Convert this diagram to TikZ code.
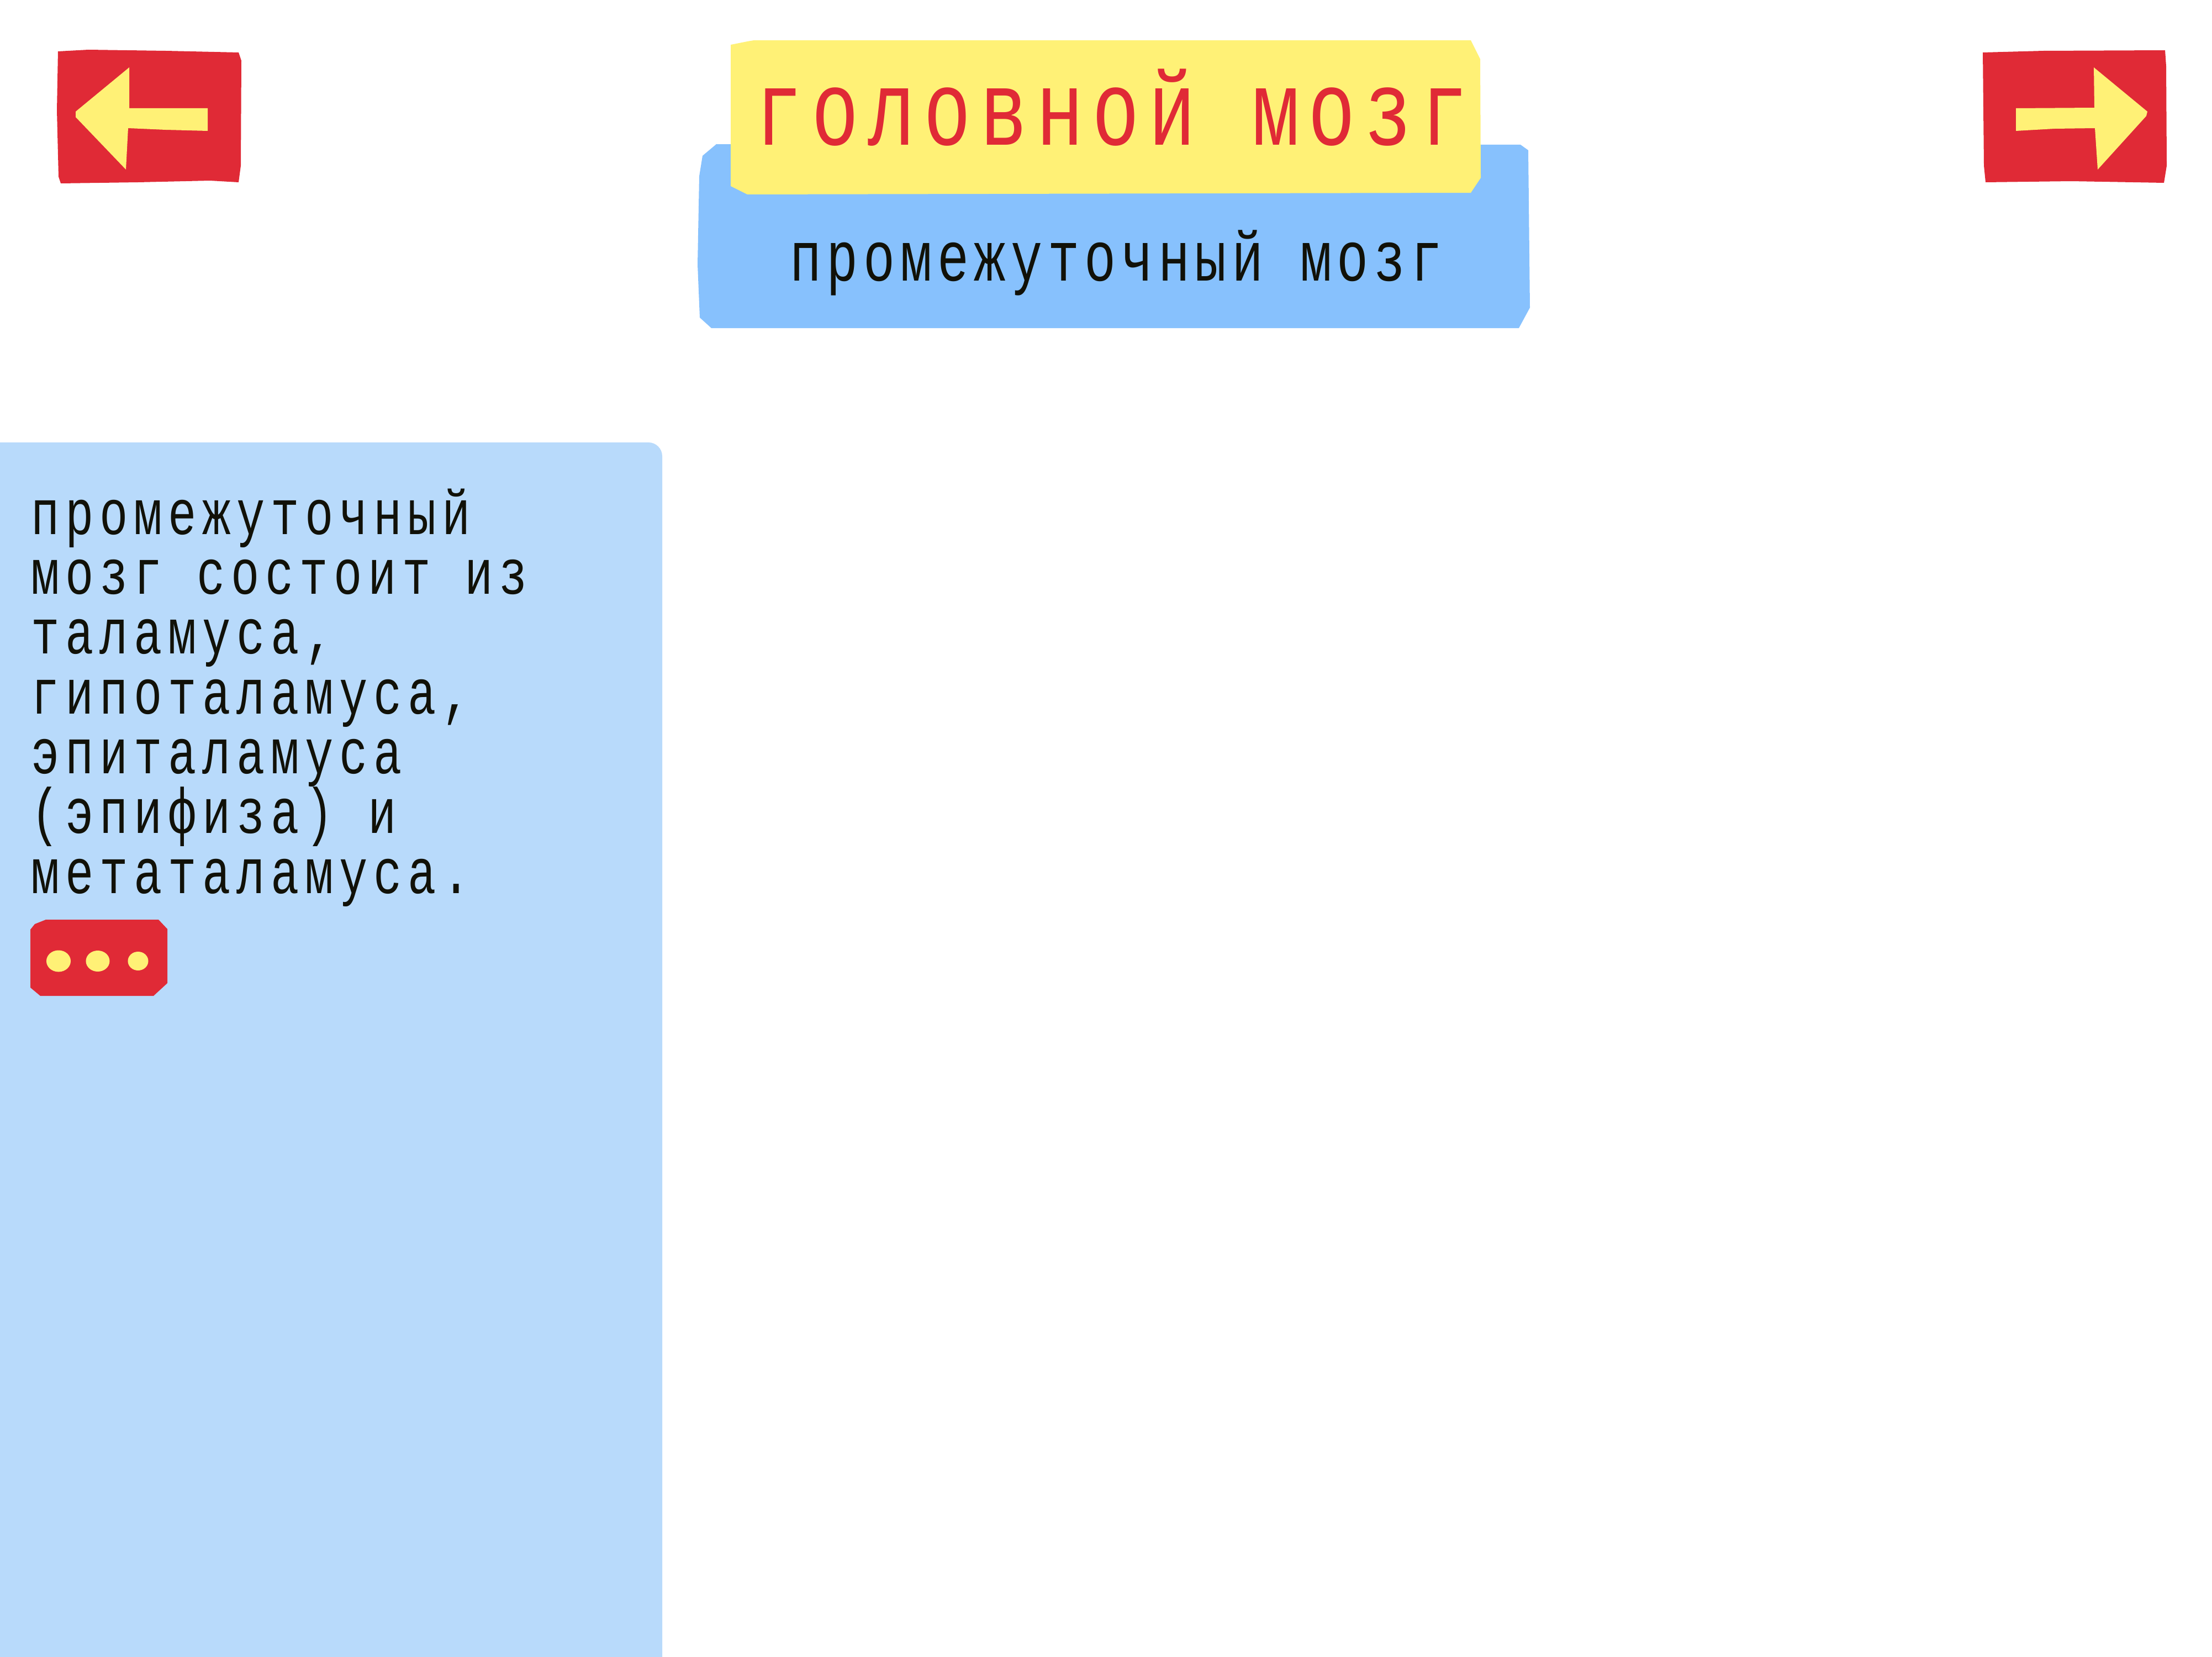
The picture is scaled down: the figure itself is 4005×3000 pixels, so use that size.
\documentclass[tikz,border=0pt]{standalone}
\usepackage{fontspec}
\newfontfamily\headfont[FakeStretch=0.74,LetterSpace=7.4]{Liberation Mono}
\newfontfamily\bodyfont[FakeStretch=0.74,LetterSpace=9.2]{Liberation Mono}
\usetikzlibrary{positioning}

\definecolor{btnred}{HTML}{E02A36}
\definecolor{btnyellow}{HTML}{FFF176}
\definecolor{capblue}{HTML}{87C1FD}
\definecolor{panelblue}{HTML}{B8DAFB}
\definecolor{ink}{HTML}{111108}

\begin{document}
\begin{tikzpicture}[x=0.01cm,y=-0.01cm,inner sep=0pt]
  \tikzstyle{title text}=[font=\headfont\addfontfeature{LetterSpace=8.3}\fontsize{54.9}{56}\selectfont, text=btnred, anchor=base]
  \tikzstyle{caption text}=[font=\headfont\fontsize{36.6}{38}\selectfont, text=ink, anchor=base]
  \tikzstyle{body text}=[font=\bodyfont\fontsize{32.9}{30.8}\selectfont, text=ink, anchor=base west, align=left]

  \useasboundingbox (0,0) rectangle (4005,3000);

  % side panel
  \fill[panelblue] (0,3000) -- (0,801) -- (1174,801)
    arc[start angle=90, end angle=0, radius=0.25cm] -- (1199,3000) -- cycle;

  % back / forward buttons
  \fill[btnred] (105,93) -- (160,90) -- (300,92) -- (432,95) -- (437,110) -- (436,300)
    -- (432,330) -- (380,327) -- (250,330) -- (110,332) -- (106,320) -- (103,200) -- cycle;
  \fill[btnyellow] (137,202) -- (234,122) -- (234,196) -- (376,196) -- (376,237)
    -- (300,235) -- (232,232) -- (228,307) -- (137,212) -- cycle;
  \fill[btnred] (3590,95) -- (3700,92) -- (3920,91) -- (3922,120) -- (3923,300)
    -- (3918,331) -- (3750,328) -- (3595,330) -- (3592,300) -- cycle;
  \fill[btnyellow] (3650,196) -- (3792,195) -- (3791,122) -- (3888,202) -- (3886,210)
    -- (3798,307) -- (3793,232) -- (3720,233) -- (3650,237) -- cycle;

  % heading boxes
  \fill[capblue] (1297,261) -- (2753,262) -- (2767,272) -- (2770,557) -- (2750,594)
    -- (1288,594) -- (1267,575) -- (1263,479) -- (1266,319) -- (1272,282) -- cycle;
  \fill[btnyellow] (1323,81) -- (1353,75) -- (1365,73) -- (2663,73) -- (2680,107) -- (2681,322)
    -- (2663,349) -- (1353,352) -- (1323,337) -- cycle;

  \node[title text]   (title)    at (2013,263) {головной мозг};
  \node[caption text] (subtitle) at (2021,508) {промежуточный мозг};

  % text of the panel (anchored on its last line)
  \node[body text] (body) at (56,1617) {промежуточный\\мозг состоит из\\таламуса,\\гипоталамуса,\\эпиталамуса\\(эпифиза) и\\метаталамуса.};

  % more button
  \fill[btnred] (55,1683) -- (63,1673) -- (83,1665) -- (287,1665) -- (303,1682) -- (303,1780)
    -- (278,1803) -- (73,1803) -- (55,1788) -- cycle;
  \foreach \cx/\rx/\ry in {106/0.22/0.195, 177/0.215/0.19, 250/0.185/0.17}
    \fill[btnyellow] (\cx,1740) ellipse[x radius=\rx cm, y radius=\ry cm];
\end{tikzpicture}
\end{document}
